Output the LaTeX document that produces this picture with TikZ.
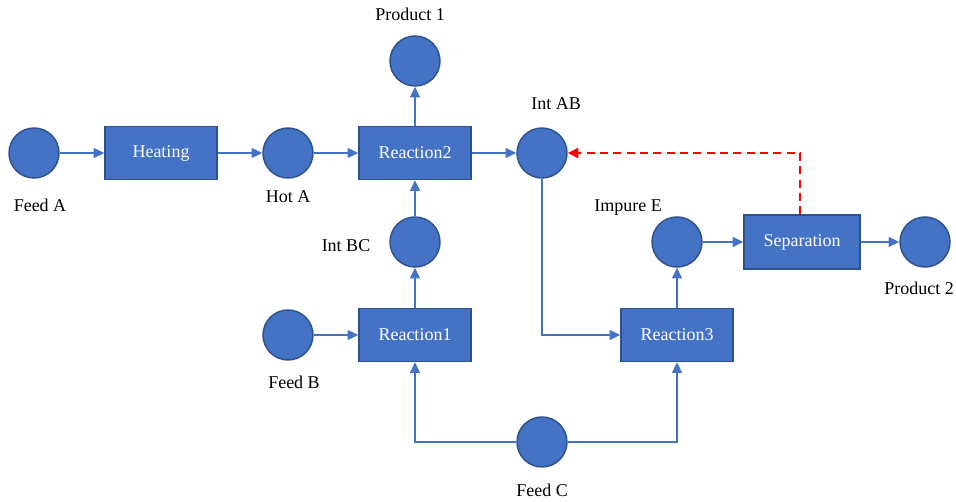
\documentclass[tikz,border=0pt]{standalone}
\usepackage{fontspec}
\setmainfont{Liberation Serif}
\usetikzlibrary{arrows.meta,positioning}
\definecolor{blu}{HTML}{4472C4}
\definecolor{blud}{HTML}{2F528F}
\begin{document}
\begin{tikzpicture}[x=0.75pt,y=-0.75pt,font=\fontsize{13.5}{16}\selectfont,on grid,
  >={Triangle[length=8pt,width=7.5pt]},
  c/.style={circle,draw=blud,fill=blu,line width=1.1pt,minimum size=37.5pt,inner sep=0pt},
  b/.style={draw=blud,fill=blu,line width=1.1pt,minimum width=84pt,minimum height=39.75pt,text=white},
  lbl/.style={inner sep=0pt},
  f/.style={->,draw=blu,line width=0.8pt},
  rec/.style={->,draw=red,line width=1.8pt,dash pattern=on 6pt off 4pt}]
\useasboundingbox (0,0) rectangle (956,502);
\node[c] (fa) at (34,153) {};
\node[b,right=95.25pt of fa] (heat) {Heating};
\node[c,right=95.25pt of heat] (hota) {};
\node[b,right=95.25pt of hota] (r2) {Reaction2};
\node[c,right=95.25pt of r2] (iab) {};
\node[c,above=69pt of r2] (p1) {};
\node[c,below=66.75pt of r2] (ibc) {};
\node[b,below=69.75pt of ibc] (r1) {Reaction1};
\node[c,left=95.25pt of r1] (fb) {};
\node[c,below right=80.25pt and 95.25pt of r1] (fc) {};
\node[b,right=196.5pt of r1] (r3) {Reaction3};
\node[c,above=69.75pt of r3] (ie) {};
\node[b,right=93.75pt of ie,minimum width=87pt,minimum height=40.5pt] (sep) {Separation};
\node[c,right=92.25pt of sep] (p2) {};
% labels
\node[lbl,below=39pt of fa,xshift=4.5pt] (fa-l) {Feed A};
\node[lbl,below=33pt of hota] (hota-l) {Hot A};
\node[lbl,above=35.25pt of p1,xshift=-3.75pt] (p1-l) {Product 1};
\node[lbl,above=36.75pt of iab,xshift=10.5pt] (iab-l) {Int AB};
\node[lbl,left=51.75pt of ibc,yshift=-3pt] (ibc-l) {Int BC};
\node[lbl,below=35.25pt of fb,xshift=4.5pt] (fb-l) {Feed B};
\node[lbl,below=36pt of fc] (fc-l) {Feed C};
\node[lbl,above=25.5pt of ie,xshift=-36.75pt] (ie-l) {Impure E};
\node[lbl,below=34.5pt of p2,xshift=-4.5pt] (p2-l) {Product 2};
% streams
\draw[f] (fa)--(heat); \draw[f] (heat)--(hota); \draw[f] (hota)--(r2); \draw[f] (r2)--(iab);
\draw[f] (r2)--(p1); \draw[f] (ibc)--(r2); \draw[f] (r1)--(ibc); \draw[f] (fb)--(r1);
\draw[f] (iab) |- (r3); \draw[f] (fc) -| (r1); \draw[f] (fc) -| (r3);
\draw[f] (r3)--(ie); \draw[f] (ie)--(sep); \draw[f] (sep)--(p2);
\draw[rec] ([xshift=-1.5pt]sep.north) |- (iab.east);
\end{tikzpicture}
\end{document}
